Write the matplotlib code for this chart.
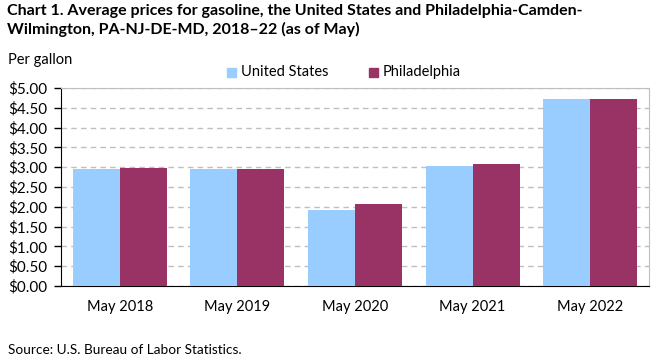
import matplotlib.pyplot as plt
import numpy as np
from matplotlib.patches import Rectangle

# data
categories = ['May 2018', 'May 2019', 'May 2020', 'May 2021', 'May 2022']
us_prices = [2.96, 2.96, 1.93, 3.03, 4.71]
philly_prices = [2.98, 2.96, 2.08, 3.08, 4.73]
y_ticks = [0.0, 0.5, 1.0, 1.5, 2.0, 2.5, 3.0, 3.5, 4.0, 4.5, 5.0]

US_COLOR = '#99CCFF'
PHL_COLOR = '#993366'

plt.rcParams['font.family'] = ['Lato', 'DejaVu Sans']

fig = plt.figure(figsize=(6.61, 3.61), dpi=100)
W, H = 661, 361
ax = fig.add_axes([61 / W, 1 - 286 / H, (649 - 61) / W, (286 - 88) / H])

x = np.arange(len(categories))
width = 0.4
ax.bar(x - width / 2, us_prices, width, color=US_COLOR, zorder=3)
ax.bar(x + width / 2, philly_prices, width, color=PHL_COLOR, zorder=3)

ax.set_xlim(-0.5, len(categories) - 0.5)
ax.set_ylim(0, 5)
ax.set_yticks(y_ticks)
ax.set_yticklabels([f'${v:.2f}' for v in y_ticks], fontsize=11)
ax.set_xticks(x)
ax.set_xticklabels(categories, fontsize=10.5)
ax.tick_params(axis='x', length=0, pad=10)
ax.tick_params(axis='y', direction='out', length=5, width=1, pad=5)

ax.yaxis.grid(True, color='#BFBFBF', linestyle=(0, (4, 3)), linewidth=1, zorder=0)
ax.set_axisbelow(True)

ax.spines['left'].set_color('black')
ax.spines['bottom'].set_color('black')
ax.spines['top'].set_color('#BFBFBF')
ax.spines['right'].set_color('#BFBFBF')

fig.text(7 / W, 1 - 4 / H, 'Chart 1. Average prices for gasoline, the United States and Philadelphia-Camden-\n'
         'Wilmington, PA-NJ-DE-MD, 2018\u201322 (as of May)',
         fontsize=11.5, fontweight='bold', va='top', ha='left', linespacing=1.3)
fig.text(8 / W, 1 - 60 / H, 'Per gallon', fontsize=10.5, va='center', ha='left')
fig.text(8 / W, 1 - 350 / H, 'Source: U.S. Bureau of Labor Statistics.', fontsize=9.8, va='center', ha='left')

# legend
fig.patches.append(Rectangle((227 / W, 1 - 77 / H), 9 / W, 9 / H, color=US_COLOR, transform=fig.transFigure))
fig.text(241 / W, 1 - 72 / H, 'United States', fontsize=10.5, va='center', ha='left')
fig.patches.append(Rectangle((369 / W, 1 - 77 / H), 9 / W, 9 / H, color=PHL_COLOR, transform=fig.transFigure))
fig.text(383 / W, 1 - 72 / H, 'Philadelphia', fontsize=10.5, va='center', ha='left')

fig.savefig('out.png', dpi=100)
